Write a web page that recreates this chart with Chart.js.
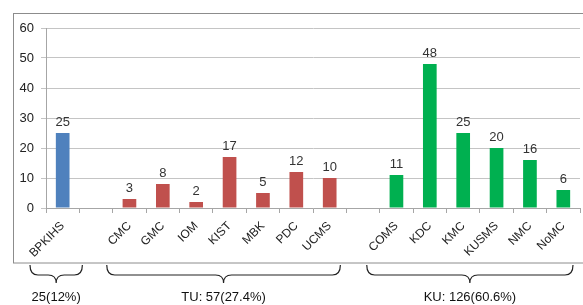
<!DOCTYPE html>
<html>
<head>
<meta charset="utf-8">
<script src="https://cdn.jsdelivr.net/npm/chart.js@4"></script>
<style>
  html, body { margin: 0; padding: 0; background: #fff; }
  #wrap { width: 583px; height: 305px; }
</style>
</head>
<body>
<div id="wrap"><canvas id="my-chart" width="583" height="305"></canvas></div>
<script>
// ======== Data ========
const categories = ['BPKIHS', '', 'CMC', 'GMC', 'IOM', 'KIST', 'MBK', 'PDC', 'UCMS', '',
                    'COMS', 'KDC', 'KMC', 'KUSMS', 'NMC', 'NoMC']
const counts = [25, null, 3, 8, 2, 17, 5, 12, 10, null, 11, 48, 25, 20, 16, 6]
const groupOf = ['B', '', 'TU', 'TU', 'TU', 'TU', 'TU', 'TU', 'TU', '', 'KU', 'KU', 'KU', 'KU', 'KU', 'KU']
const yTicks = [0, 10, 20, 30, 40, 50, 60]

// brace groups: first and last category index, label underneath
const groups = [
    { from: 0, to: 0, label: '25(12%)', padL: -16, padR: -3 },
    { from: 2, to: 8, label: 'TU: 57(27.4%)', padL: -6, padR: 6 },
    { from: 10, to: 15, label: 'KU: 126(60.6%)', padL: -13, padR: 7 }
]

const groupColors = { B: '#4f81bd', TU: '#c0504d', KU: '#00b050' }
const barColors = groupOf.map(g => groupColors[g] || 'transparent')

const FONT = '"Liberation Sans", Arial, sans-serif'

// draws the value over each bar
const valueLabels = {
    id: 'valueLabels',
    afterDatasetsDraw(chart) {
        const ctx = chart.ctx
        const meta = chart.getDatasetMeta(0)
        ctx.save()
        ctx.font = '13px ' + FONT
        ctx.fillStyle = '#333'
        ctx.textAlign = 'center'
        ctx.textBaseline = 'bottom'
        meta.data.forEach((bar, i) => {
            if (counts[i] === null) return
            ctx.fillText(String(counts[i]), bar.x, bar.y - 4)
        })
        ctx.restore()
    }
}

// outer frame plus curly braces and group totals below it
const frameAndBraces = {
    id: 'frameAndBraces',
    afterDraw(chart) {
        const ctx = chart.ctx
        const x = chart.scales.x
        const half = (x.getPixelForValue(1) - x.getPixelForValue(0)) / 2
        ctx.save()
        ctx.strokeStyle = '#8c8c8c'
        ctx.lineWidth = 1
        ctx.strokeRect(13.5, 13.5, 600, 249.5)

        ctx.strokeStyle = '#222'
        ctx.lineWidth = 1.2
        groups.forEach(g => {
            const x0 = x.getPixelForValue(g.from) - half + g.padL
            const x1 = x.getPixelForValue(g.to) + half - g.padR
            const mid = (x0 + x1) / 2
            const top = 265, midY = 275, tip = 283, r = 8
            ctx.beginPath()
            ctx.moveTo(x0, top)
            ctx.quadraticCurveTo(x0, midY, x0 + r, midY)
            ctx.lineTo(mid - r, midY)
            ctx.quadraticCurveTo(mid, midY, mid, tip)
            ctx.quadraticCurveTo(mid, midY, mid + r, midY)
            ctx.lineTo(x1 - r, midY)
            ctx.quadraticCurveTo(x1, midY, x1, top)
            ctx.stroke()

            ctx.font = '13px ' + FONT
            ctx.fillStyle = '#111'
            ctx.textAlign = 'center'
            ctx.textBaseline = 'middle'
            ctx.fillText(g.label, mid, 297)
        })
        ctx.restore()
    }
}

new Chart(document.getElementById('my-chart').getContext('2d'), {
    type: 'bar',
    data: {
        labels: categories,
        datasets: [{
            data: counts,
            backgroundColor: barColors,
            borderWidth: 0,
            categoryPercentage: 1,
            barPercentage: 0.41
        }]
    },
    options: {
        responsive: false,
        animation: false,
        devicePixelRatio: 1,
        layout: { padding: { left: 14, top: 28, right: 3, bottom: 42 } },
        plugins: {
            legend: { display: false },
            tooltip: { enabled: false }
        },
        scales: {
            x: {
                grid: {
                    offset: true,
                    drawOnChartArea: false,
                    drawTicks: true,
                    tickLength: 5,
                    color: '#a6a6a6'
                },
                border: { color: '#a6a6a6' },
                ticks: {
                    autoSkip: false,
                    minRotation: 45,
                    maxRotation: 45,
                    padding: 6,
                    color: '#222',
                    font: { family: FONT, size: 12 }
                },
                afterFit(scale) { scale.height = 55 }
            },
            y: {
                min: 0,
                max: 60,
                afterBuildTicks(scale) { scale.ticks = yTicks.map(v => ({ value: v })) },
                grid: {
                    color: '#c4c4c4',
                    tickLength: 5
                },
                border: { color: '#a6a6a6' },
                ticks: {
                    padding: 7,
                    color: '#222',
                    font: { family: FONT, size: 13 }
                },
                afterFit(scale) { scale.width = 32 }
            }
        }
    },
    plugins: [valueLabels, frameAndBraces]
})
</script>
</body>
</html>
